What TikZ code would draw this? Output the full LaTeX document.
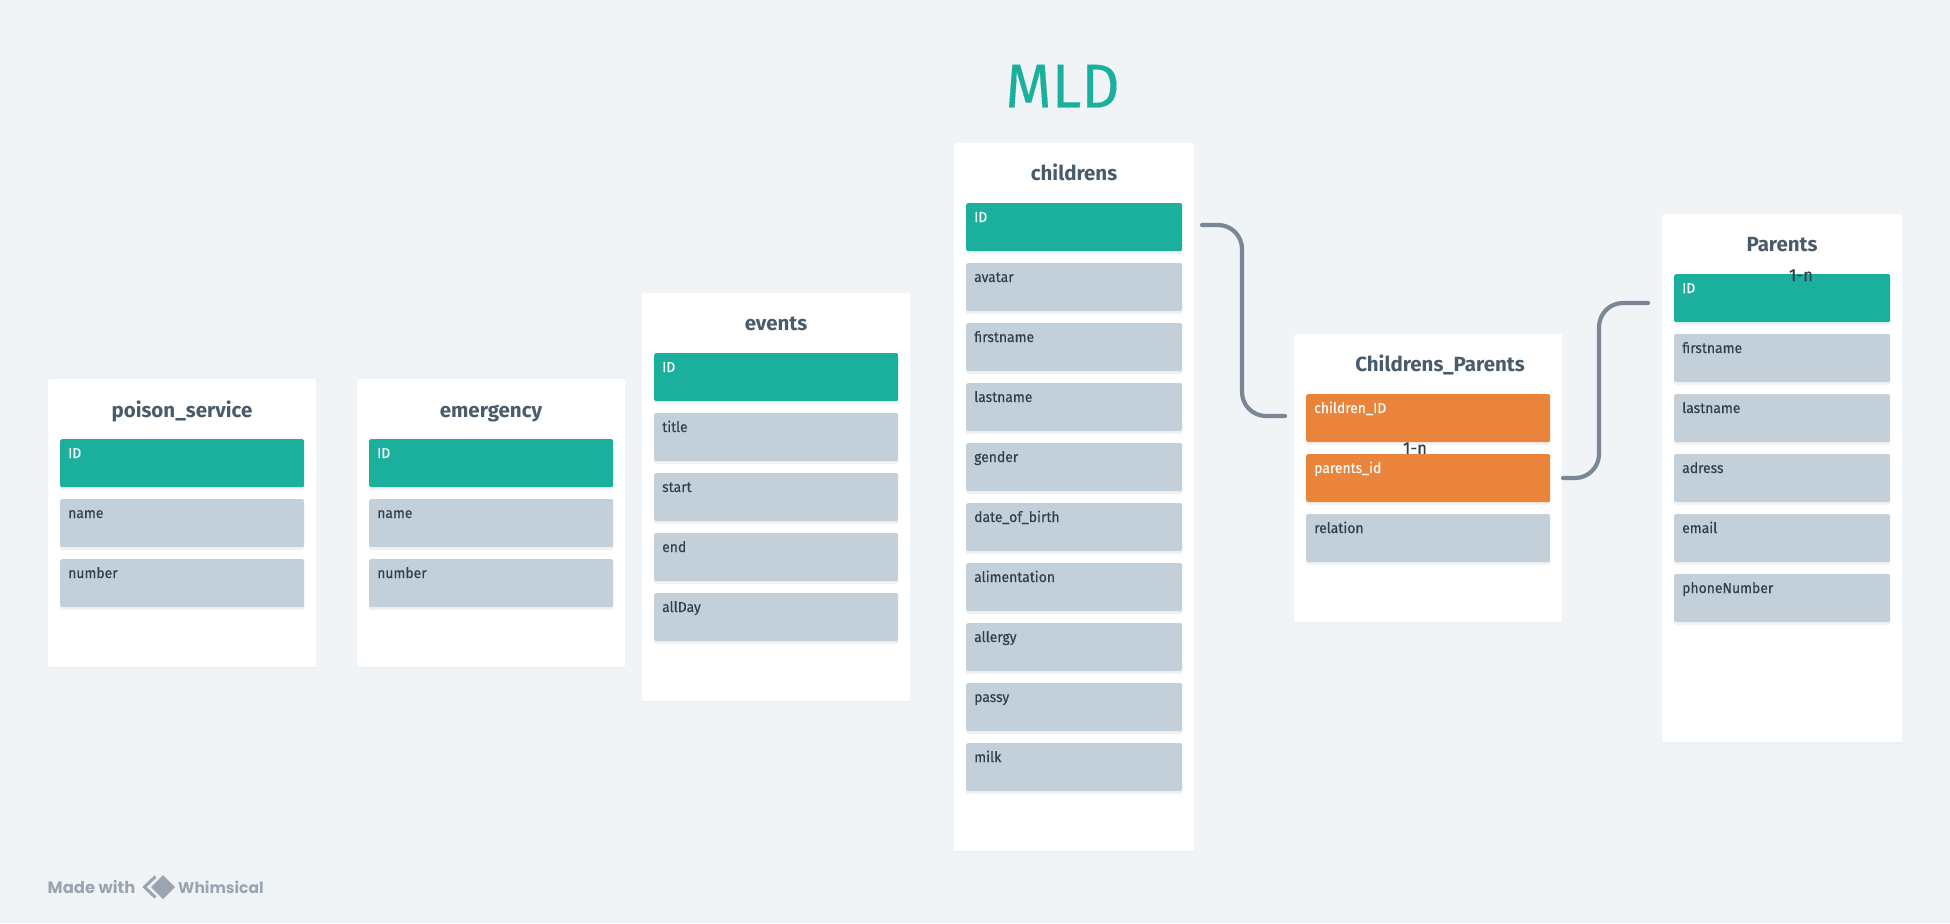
\documentclass[tikz,border=0pt]{standalone}
\usepackage{fontspec}
\setmainfont{Fira Sans}
\newfontfamily\medfont[FakeBold=0.25,FakeStretch=0.96]{Fira Sans}
\newfontfamily\logofont{Poppins}
\usetikzlibrary{shadows,calc}
\definecolor{bgc}{HTML}{F0F4F7}
\definecolor{tealc}{HTML}{1BB09D}
\definecolor{grayc}{HTML}{C3CFD9}
\definecolor{orangec}{HTML}{E9843A}
\definecolor{titlec}{HTML}{4A5B6B}
\definecolor{textc}{HTML}{323F4B}
\definecolor{connc}{HTML}{7B8794}
\definecolor{logoc}{HTML}{9AA5B1}
\tikzset{
  cardbox/.style={fill=white,rounded corners=2pt,inner sep=0pt,anchor=north west,
    drop shadow={shadow xshift=0pt,shadow yshift=-1.5pt,opacity=.025,fill=black}},
  rowbase/.style={rounded corners=1.5pt,inner sep=0pt,anchor=north west,minimum height=48pt,
    drop shadow={shadow xshift=0pt,shadow yshift=-3pt,opacity=.05,fill=black}},
  idrow/.style={rowbase,fill=tealc},
  fieldrow/.style={rowbase,fill=grayc},
  fkrow/.style={rowbase,fill=orangec},
  rowlabel/.style={anchor=base west,inner sep=0pt,font=\medfont\fontsize{14.5}{16}\selectfont},
  idrow label/.style={rowlabel,text=white},
  fieldrow label/.style={rowlabel,text=textc},
  fkrow label/.style={rowlabel,text=white},
  cardtitle/.style={anchor=base,inner sep=0pt,text=titlec,font=\fontsize{20.5}{22}\selectfont\bfseries},
  conn/.style={draw=connc,line width=4.2pt,line cap=round,rounded corners=24pt},
  cardinal/.style={inner sep=0pt,text=textc,font=\medfont\fontsize{17.5}{18}\selectfont},
  logotext/.style={anchor=base west,inner sep=0pt,text=logoc,font=\logofont\bfseries\fontsize{15.5}{18}\selectfont},
}
% name, style, x, y, width, text
\newcommand{\rowbox}[6]{%
  \node[#2,minimum width=#5pt] (#1) at (#3,#4) {};
  \node[#2 label] (#1-t) at ($(#1.north west)+(8,19)$) {#6};
}
% name, x, y, w, h
\newcommand{\cardbox}[5]{%
  \node[cardbox,minimum width=#4pt,minimum height=#5pt] (#1) at (#2,#3) {};
}
\begin{document}
\begin{tikzpicture}[x=1pt,y=-1pt]
\useasboundingbox[fill=bgc] (0,0) rectangle (1950,923);

% title
\node[inner sep=0pt,anchor=base,text=tealc,font=\medfont\fontsize{62}{64}\selectfont] (mld) at (1062.5,107.5) {MLD};

% poison_service
\cardbox{ps}{48}{379}{268}{288}
\node[cardtitle] (ps-title) at (182,417) {poison\_service};
\rowbox{ps1}{idrow}{60}{439}{244}{ID}
\rowbox{ps2}{fieldrow}{60}{499}{244}{name}
\rowbox{ps3}{fieldrow}{60}{559}{244}{number}

% emergency
\cardbox{em}{357}{379}{268}{288}
\node[cardtitle] (em-title) at (491,417) {emergency};
\rowbox{em1}{idrow}{369}{439}{244}{ID}
\rowbox{em2}{fieldrow}{369}{499}{244}{name}
\rowbox{em3}{fieldrow}{369}{559}{244}{number}

% events
\cardbox{ev}{642}{293}{268}{408}
\node[cardtitle] (ev-title) at (776,330) {events};
\rowbox{ev1}{idrow}{654}{353}{244}{ID}
\rowbox{ev2}{fieldrow}{654}{413}{244}{title}
\rowbox{ev3}{fieldrow}{654}{473}{244}{start}
\rowbox{ev4}{fieldrow}{654}{533}{244}{end}
\rowbox{ev5}{fieldrow}{654}{593}{244}{allDay}

% childrens
\cardbox{ch}{954}{143}{240}{708}
\node[cardtitle] (ch-title) at (1074,180) {childrens};
\rowbox{ch1}{idrow}{966}{203}{216}{ID}
\rowbox{ch2}{fieldrow}{966}{263}{216}{avatar}
\rowbox{ch3}{fieldrow}{966}{323}{216}{firstname}
\rowbox{ch4}{fieldrow}{966}{383}{216}{lastname}
\rowbox{ch5}{fieldrow}{966}{443}{216}{gender}
\rowbox{ch6}{fieldrow}{966}{503}{216}{date\_of\_birth}
\rowbox{ch7}{fieldrow}{966}{563}{216}{alimentation}
\rowbox{ch8}{fieldrow}{966}{623}{216}{allergy}
\rowbox{ch9}{fieldrow}{966}{683}{216}{passy}
\rowbox{ch10}{fieldrow}{966}{743}{216}{milk}

% Childrens_Parents
\cardbox{cp}{1294}{334}{268}{288}
\node[cardtitle] (cp-title) at (1440,371) {Childrens\_Parents};
\node[cardinal,anchor=base] (cp-card) at (1415,454) {1-n};
\rowbox{cp1}{fkrow}{1306}{394}{244}{children\_ID}
\rowbox{cp2}{fkrow}{1306}{454}{244}{parents\_id}
\rowbox{cp3}{fieldrow}{1306}{514}{244}{relation}

% Parents
\cardbox{pa}{1662}{214}{240}{528}
\node[cardtitle] (pa-title) at (1782,251) {Parents};
\rowbox{pa1}{idrow}{1674}{274}{216}{ID}
\rowbox{pa2}{fieldrow}{1674}{334}{216}{firstname}
\rowbox{pa3}{fieldrow}{1674}{394}{216}{lastname}
\rowbox{pa4}{fieldrow}{1674}{454}{216}{adress}
\rowbox{pa5}{fieldrow}{1674}{514}{216}{email}
\rowbox{pa6}{fieldrow}{1674}{574}{216}{phoneNumber}
\node[cardinal,anchor=base] (pa-card) at (1801,281) {1-n};

% connectors
\coordinate (c1a) at (1202,225);
\coordinate (c1b) at (1285,416);
\coordinate (c2a) at (1563,478);
\coordinate (c2b) at (1648,303);
\draw[conn] (c1a) -- (1242,225) -- (1242,416) -- (c1b);
\draw[conn] (c2a) -- (1599,478) -- (1599,303) -- (c2b);

% logo
\node[logotext,font=\logofont\bfseries\fontsize{16.4}{18}\selectfont] (made) at (47.5,893) {Made with};
\node[logotext] (whim) at (178,893) {Whimsical};
\fill[logoc] (163,875) -- (175,887) -- (163,899) -- (151,887) -- cycle;
\draw[logoc,line width=3pt,line join=miter] (155.5,876.5) -- (144.5,887) -- (155.5,897.5);
\end{tikzpicture}
\end{document}
